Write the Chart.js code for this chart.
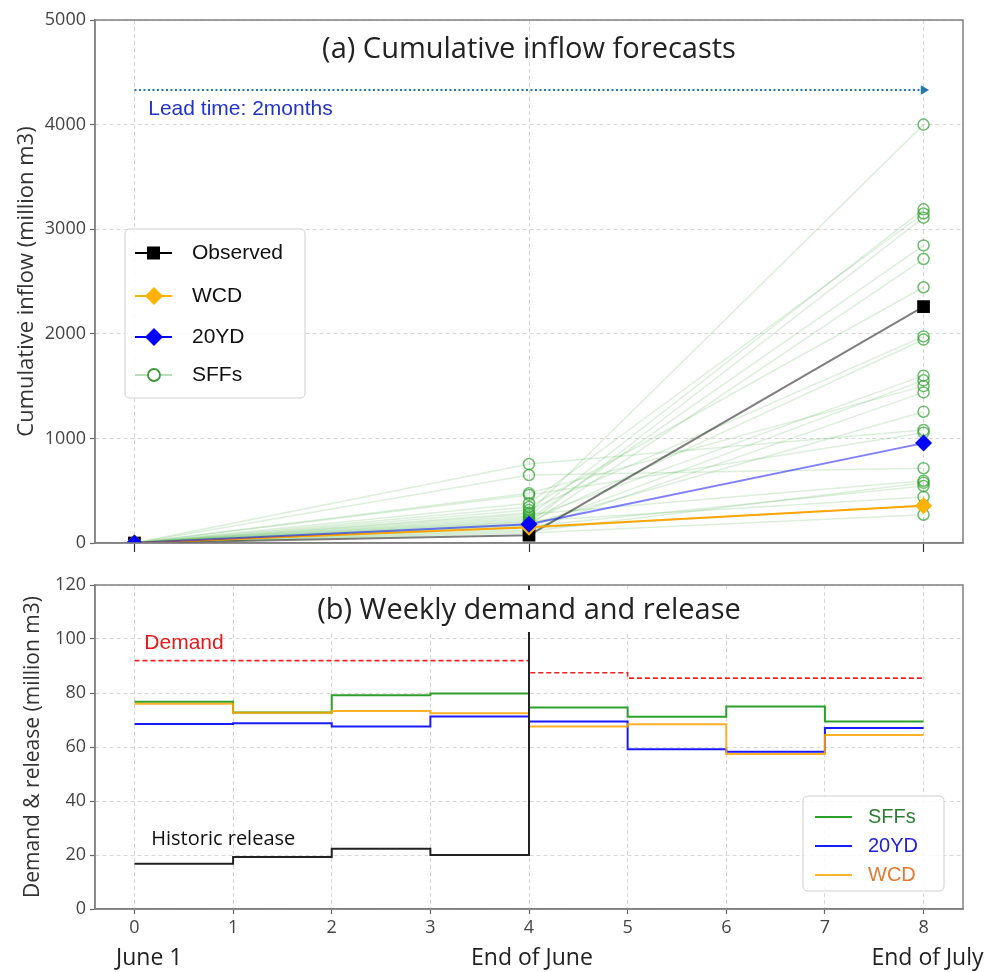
<!DOCTYPE html>
<html><head><meta charset="utf-8">
<script src="https://cdn.jsdelivr.net/npm/chart.js@4.4.1/dist/chart.umd.min.js"></script>
<style>
html,body{margin:0;padding:0;background:#fff;width:985px;height:972px;overflow:hidden}
#c1{position:absolute;left:0;top:0}
#c2{position:absolute;left:0;top:560px}
</style></head><body>
<canvas id="c1" width="985" height="560"></canvas>
<canvas id="c2" width="985" height="412"></canvas>
<script>
// ---------------- DATA ----------------
// (a) cumulative inflow: lead points June 1 (0), End of June (4), End of July (8)
const leadPoints = [0, 4, 8];
const observedCum = [0, 75, 2260];
const wcdCum = [0, 150, 355];
const yd20Cum = [0, 180, 955];
const sffStart = 0;
const sffEndJune = [755, 650, 475, 460, 380, 345, 315, 290, 275, 255, 240, 225, 210, 200, 190, 180, 170, 160, 150, 140, 125, 110, 95];
const sffEndJuly = [1080, 715, 1500, 1055, 3150, 2445, 1975, 4000, 595, 3190, 1600, 2845, 440, 1945, 3110, 1255, 2715, 545, 1555, 360, 1440, 575, 270];
const leadTimeSpan = [0, 8];
const leadTimeLevel = 4330;
const topYTicks = [0, 1000, 2000, 3000, 4000, 5000];

// (b) weekly demand and release (weeks 0..8)
const weeks = [0, 1, 2, 3, 4, 5, 6, 7, 8];
const demand = [92, 92, 92, 92, 87.5, 85.5, 85.5, 85.5];
const sffRelease = [76.8, 72.8, 79.2, 79.8, 74.6, 71.2, 75.0, 69.4];
const yd20Release = [68.5, 68.8, 67.6, 71.3, 69.4, 59.2, 58.2, 67.0];
const wcdRelease = [76.0, 72.7, 73.3, 72.5, 67.6, 68.4, 57.4, 64.4];
const historicRelease = [16.8, 19.3, 22.3, 20.0];
const bottomYTicks = [0, 20, 40, 60, 80, 100, 120];
const periodLabels = ['June 1', 'End of June', 'End of July'];
const periodPos = [0.15, 4.03, 8.04];

// ---------------- HELPERS ----------------
const TICKF = {family: 'Open Sans', size: 18};
function stepPts(vals, xs) {
  return xs.slice(0, vals.length + 1).map((x, i) => ({x, y: vals[Math.min(i, vals.length - 1)]}));
}
function xyPts(xs, ys) { return xs.map((x, i) => ({x, y: ys[i]})); }
function fixTicks(list) { return s => { s.ticks = list.map(v => ({value: v})); }; }
function gridOpts(tickLen, tickColor) {
  return {color: '#d8d8d8', lineWidth: 1, drawTicks: true, tickLength: tickLen, tickColor: tickColor, tickWidth: 1.2, tickBorderDash: []};
}
const borderOpts = {display: true, color: '#808080', width: 1.5, dash: [4, 3]};
const plainTick = v => String(v);

function frame(ctx, a) {
  ctx.save(); ctx.strokeStyle = '#808080'; ctx.lineWidth = 1.5;
  ctx.strokeRect(a.left, a.top, a.right - a.left, a.bottom - a.top); ctx.restore();
}
function diamond(ctx, x, y, r, col) {
  ctx.beginPath(); ctx.moveTo(x - r, y); ctx.lineTo(x, y - r); ctx.lineTo(x + r, y); ctx.lineTo(x, y + r); ctx.closePath();
  ctx.fillStyle = col; ctx.fill();
}
function roundBox(ctx, x, y, w, h, r) {
  ctx.beginPath(); ctx.moveTo(x + r, y); ctx.lineTo(x + w - r, y); ctx.quadraticCurveTo(x + w, y, x + w, y + r);
  ctx.lineTo(x + w, y + h - r); ctx.quadraticCurveTo(x + w, y + h, x + w - r, y + h); ctx.lineTo(x + r, y + h);
  ctx.quadraticCurveTo(x, y + h, x, y + h - r); ctx.lineTo(x, y + r); ctx.quadraticCurveTo(x, y, x + r, y); ctx.closePath();
  ctx.fillStyle = 'rgba(255,255,255,0.85)'; ctx.fill(); ctx.strokeStyle = '#cfcfcf'; ctx.lineWidth = 1; ctx.stroke();
}

// ---------------- CHART (a) ----------------
const topDatasets = [];
topDatasets.push({
  label: 'lead', data: xyPts(leadTimeSpan, [leadTimeLevel, leadTimeLevel]), borderColor: '#1f77b4', borderWidth: 2,
  borderDash: [2, 2.5], pointRadius: [0, 5.5], pointStyle: 'triangle', rotation: 90, pointBackgroundColor: '#1f77b4',
  pointBorderWidth: 0, order: 0
});
sffEndJune.forEach((v, i) => {
  topDatasets.push({
    label: 'SFF' + i, data: xyPts(leadPoints, [sffStart, v, sffEndJuly[i]]),
    borderColor: 'rgba(44,160,44,0.17)', borderWidth: 1.5, pointRadius: [0, 5.5, 5.5], pointStyle: 'circle',
    pointBackgroundColor: 'rgba(0,0,0,0)', pointBorderColor: 'rgba(44,160,44,0.7)', pointBorderWidth: 1.5, order: 10
  });
});
topDatasets.push({label: 'Observed', data: xyPts(leadPoints, observedCum), borderColor: 'rgba(0,0,0,0.5)', borderWidth: 2,
  pointStyle: 'rect', pointRadius: 9, pointBackgroundColor: '#000', pointBorderWidth: 0, order: 3});
topDatasets.push({label: 'WCD', data: xyPts(leadPoints, wcdCum), borderColor: '#ffa500', borderWidth: 2,
  pointStyle: 'rectRot', pointRadius: 8.5, pointBackgroundColor: '#ffb300', pointBorderWidth: 0, order: 2});
topDatasets.push({label: '20YD', data: xyPts(leadPoints, yd20Cum), borderColor: 'rgba(0,0,255,0.5)', borderWidth: 2,
  pointStyle: 'rectRot', pointRadius: 8.5, pointBackgroundColor: '#0000ff', pointBorderWidth: 0, order: 1});

const topPlugin = {
  id: 'topDecor',
  afterDatasetsDraw(chart) {
    const ctx = chart.ctx, a = chart.chartArea, xs = chart.scales.x, ys = chart.scales.y;
    frame(ctx, a);
    ctx.save();
    ctx.fillStyle = '#222'; ctx.font = '29px "Open Sans"'; ctx.textAlign = 'center'; ctx.textBaseline = 'middle';
    ctx.fillText('(a) Cumulative inflow forecasts', (a.left + a.right) / 2, 50);
    ctx.fillStyle = '#2233cc'; ctx.font = '21px "Liberation Sans"'; ctx.textAlign = 'left';
    ctx.fillText('Lead time: 2months', xs.getPixelForValue(0.14), ys.getPixelForValue(4150));
    // legend
    roundBox(ctx, 125, 229, 180, 169, 5);
    const items = [
      {t: 'Observed', y: 253, line: '#000', m: 'sq'},
      {t: 'WCD', y: 296, line: '#ffb300', m: 'dia', c: '#ffb300'},
      {t: '20YD', y: 337, line: '#0000ff', m: 'dia', c: '#0000ff'},
      {t: 'SFFs', y: 375, line: 'rgba(44,160,44,0.35)', m: 'circ'}
    ];
    items.forEach(it => {
      ctx.beginPath(); ctx.moveTo(135, it.y); ctx.lineTo(172, it.y); ctx.strokeStyle = it.line; ctx.lineWidth = 2; ctx.stroke();
      if (it.m === 'sq') { ctx.fillStyle = '#000'; ctx.fillRect(147, it.y - 6.5, 13, 13); }
      if (it.m === 'dia') diamond(ctx, 154, it.y, 9, it.c);
      if (it.m === 'circ') { ctx.beginPath(); ctx.arc(154, it.y, 6, 0, Math.PI * 2); ctx.fillStyle = '#fff'; ctx.fill();
        ctx.strokeStyle = '#3a9a3a'; ctx.lineWidth = 1.8; ctx.stroke(); }
      ctx.fillStyle = '#111'; ctx.font = '21px "Liberation Sans"'; ctx.textAlign = 'left'; ctx.textBaseline = 'middle';
      ctx.fillText(it.t, 192, it.y);
    });
    ctx.restore();
  }
};

new Chart(document.getElementById('c1'), {
  type: 'line',
  data: {datasets: topDatasets},
  options: {
    responsive: false, animation: false, devicePixelRatio: 1,
    layout: {padding: {left: 0, right: 22, top: 20, bottom: 0}},
    plugins: {legend: {display: false}, tooltip: {enabled: false}},
    elements: {line: {tension: 0}},
    scales: {
      x: {type: 'linear', min: -0.4, max: 8.4, afterBuildTicks: fixTicks(leadPoints), afterFit: s => { s.height = 17; },
        ticks: {display: false}, grid: gridOpts(9, '#333'), border: borderOpts},
      y: {type: 'linear', min: 0, max: 5000, afterBuildTicks: fixTicks(topYTicks), afterFit: s => { s.width = 95; },
        ticks: {font: TICKF, color: '#444', padding: 4, callback: plainTick}, grid: gridOpts(5, '#666'), border: borderOpts,
        title: {display: true, text: 'Cumulative inflow (million m3)', font: {family: 'Open Sans', size: 22}, color: '#333', padding: {top: 14, bottom: 0}}}
    }
  },
  plugins: [topPlugin]
});

// ---------------- CHART (b) ----------------
const bottomMax = bottomYTicks[bottomYTicks.length - 1];
const histPts = stepPts(historicRelease, weeks);
histPts.push({x: histPts[histPts.length - 1].x, y: bottomMax});

const bottomDatasets = [
  {label: 'SFFs', data: stepPts(sffRelease, weeks), borderColor: '#2ca02c', borderWidth: 2, stepped: 'before', pointRadius: 0, order: 5},
  {label: '20YD', data: stepPts(yd20Release, weeks), borderColor: '#1a1aff', borderWidth: 2, stepped: 'before', pointRadius: 0, order: 4},
  {label: 'WCD', data: stepPts(wcdRelease, weeks), borderColor: 'rgba(255,165,0,0.85)', borderWidth: 2, stepped: 'before', pointRadius: 0, order: 3},
  {label: 'Demand', data: stepPts(demand, weeks), borderColor: '#ee2222', borderWidth: 1.6, borderDash: [5, 3], stepped: 'before', pointRadius: 0, order: 2},
  {label: 'Historic', data: histPts, borderColor: '#222', borderWidth: 2, stepped: 'before', pointRadius: 0, order: 1}
];

const bottomPlugin = {
  id: 'bottomDecor',
  afterDatasetsDraw(chart) {
    const ctx = chart.ctx, a = chart.chartArea, xs = chart.scales.x, ys = chart.scales.y;
    frame(ctx, a);
    ctx.save();
    const title = '(b) Weekly demand and release';
    ctx.font = '29px "Open Sans"';
    const tw = ctx.measureText(title).width, cx = (a.left + a.right) / 2, cy = 51;
    ctx.fillStyle = '#fff'; ctx.fillRect(cx - tw / 2 - 6, cy - 21, tw + 12, 42);
    ctx.fillStyle = '#222'; ctx.textAlign = 'center'; ctx.textBaseline = 'middle';
    ctx.fillText(title, cx, cy);
    ctx.textAlign = 'left';
    ctx.fillStyle = '#e41a1c'; ctx.font = '21px "Liberation Sans"';
    ctx.fillText('Demand', xs.getPixelForValue(0.1), ys.getPixelForValue(98.4));
    ctx.fillStyle = '#111'; ctx.font = '20px "Open Sans"';
    ctx.fillText('Historic release', xs.getPixelForValue(0.17), ys.getPixelForValue(25.8));
    // period labels
    ctx.fillStyle = '#222'; ctx.font = '23px "Open Sans"'; ctx.textAlign = 'center';
    periodLabels.forEach((t, i) => ctx.fillText(t, xs.getPixelForValue(periodPos[i]), 398));
    // legend
    roundBox(ctx, 803, 796 - 560, 141, 95, 5);
    const items = [
      {t: 'SFFs', y: 817, line: '#2ca02c', c: '#2e7d32'},
      {t: '20YD', y: 846, line: '#1a1aff', c: '#2222dd'},
      {t: 'WCD', y: 875, line: '#ffb030', c: '#e07a30'}
    ].map(it => ({...it, y: it.y - 560}));
    items.forEach(it => {
      ctx.beginPath(); ctx.moveTo(815, it.y); ctx.lineTo(852, it.y); ctx.strokeStyle = it.line; ctx.lineWidth = 2; ctx.stroke();
      ctx.fillStyle = it.c; ctx.font = '20px "Liberation Sans"'; ctx.textAlign = 'left'; ctx.textBaseline = 'middle';
      ctx.fillText(it.t, 868, it.y);
    });
    ctx.restore();
  }
};

new Chart(document.getElementById('c2'), {
  type: 'line',
  data: {datasets: bottomDatasets},
  options: {
    responsive: false, animation: false, devicePixelRatio: 1,
    layout: {padding: {left: 0, right: 22, top: 25, bottom: 0}},
    plugins: {legend: {display: false}, tooltip: {enabled: false}},
    scales: {
      x: {type: 'linear', min: -0.4, max: 8.4, afterBuildTicks: fixTicks(weeks), afterFit: s => { s.height = 63; },
        ticks: {font: TICKF, color: '#444', padding: 3, callback: plainTick}, grid: gridOpts(5, '#666'), border: borderOpts},
      y: {type: 'linear', min: 0, max: bottomMax, afterBuildTicks: fixTicks(bottomYTicks), afterFit: s => { s.width = 95; },
        ticks: {font: TICKF, color: '#444', padding: 4, callback: plainTick}, grid: gridOpts(5, '#666'), border: borderOpts,
        title: {display: true, text: 'Demand & release (million m3)', font: {family: 'Open Sans', size: 21}, color: '#333', padding: {top: 20, bottom: 0}}}
    }
  },
  plugins: [bottomPlugin]
});
</script></body></html>
